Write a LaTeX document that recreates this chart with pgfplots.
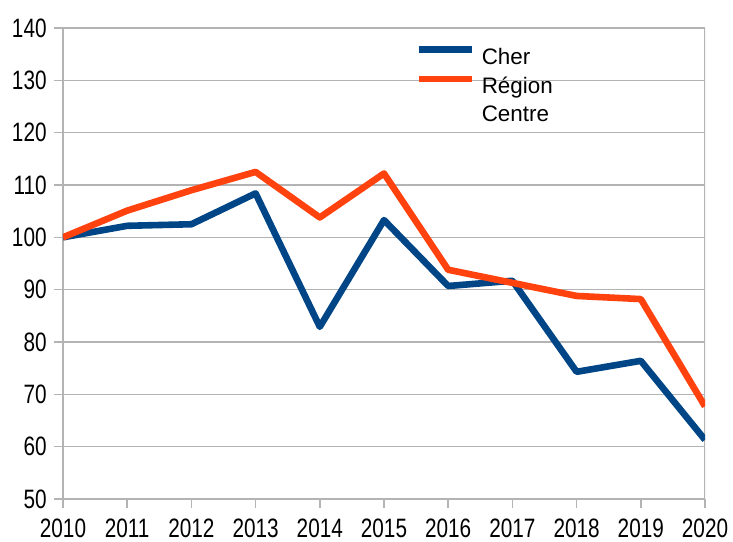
\documentclass[border=0pt]{standalone}
\usepackage{fontspec}
\setmainfont{Liberation Sans}
\newfontfamily\tickfont[FakeStretch=0.78]{Liberation Sans}
\usepackage{pgfplots}
\pgfplotsset{compat=1.18}
\definecolor{cherblue}{HTML}{004586}
\definecolor{regorange}{HTML}{FF420E}
\definecolor{gridgray}{HTML}{B3B3B3}
\begin{document}
\begin{tikzpicture}
\begin{axis}[
  scale only axis,
  width=321pt, height=235.5pt,
  xmin=2010, xmax=2020, ymin=50, ymax=140,
  xtick={2010,2011,...,2020},
  ytick={50,60,...,140},
  /pgf/number format/1000 sep={},
  /pgf/number format/assume math mode=true,
  ymajorgrids,
  grid style={gridgray, line width=0.8pt},
  axis line style={gridgray, line width=0.8pt},
  axis x line*=bottom,
  axis y line*=left,
  tick align=outside,
  major tick length=4.5pt,
  tick style={gridgray, line width=0.8pt},
  ticklabel style={font=\tickfont\fontsize{13.3}{15}\selectfont},
  yticklabel style={anchor=east, inner sep=0pt, xshift=-3.5pt},
  xticklabel style={anchor=north, inner sep=0pt, yshift=-5.5pt},
  legend style={at={(rel axis cs:0.548,0.962)}, anchor=north west, draw=none, fill=none,
    inner sep=0pt, row sep=3.5pt, column sep=3.5pt,
    font=\fontsize{11.2}{14}\selectfont,
    nodes={text height=8pt, text depth=2pt, inner sep=0pt}},
  legend cell align=left,
  legend image code/.code={\draw[#1] (0pt,4.5pt) -- (26.5pt,4.5pt);},
]
\path[draw=gridgray, line width=0.8pt] (rel axis cs:1,0) -- (rel axis cs:1,1);
\addplot[cherblue, line width=3.3pt, line join=round] coordinates {
(2010,100) (2011,102.2) (2012,102.5) (2013,108.4) (2014,82.9) (2015,103.3)
(2016,90.7) (2017,91.7) (2018,74.3) (2019,76.4) (2020,61.3)};
\addlegendentry{Cher}
\addplot[regorange, line width=3.3pt, line join=round] coordinates {
(2010,100) (2011,105.1) (2012,109) (2013,112.5) (2014,103.8) (2015,112.2)
(2016,93.8) (2017,91.3) (2018,88.8) (2019,88.2) (2020,67.7)};
\addlegendentry{\begin{tabular}[t]{@{}l@{}}Région\\Centre\end{tabular}}
\end{axis}
\path[use as bounding box] ([shift={(-31.5pt,-21.5pt)}]current axis.south west) rectangle ([shift={(14pt,14pt)}]current axis.north east);
\end{tikzpicture}
\end{document}
